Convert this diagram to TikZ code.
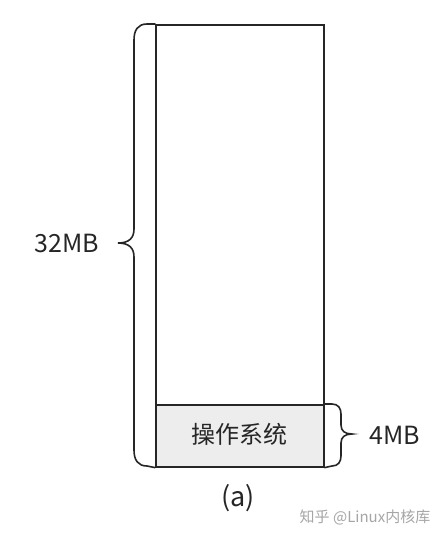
\documentclass[tikz,border=0pt]{standalone}
\usepackage{fontspec}
\setmainfont{Noto Sans CJK SC}
\begin{document}
\begin{tikzpicture}[x=1pt,y=-1pt,
  line/.style={draw=black!85, line width=1.6pt},
  lbl/.style={font=\fontsize{25}{28}\selectfont, text=black!85, inner sep=0pt}]
\useasboundingbox (0,0) rectangle (434,536);
\fill[white] (0,0) rectangle (434,536);
% OS box
\node[line, fill=black!7, minimum width=168pt, minimum height=62pt, inner sep=0pt, anchor=north west] (os) at (155,404) {};
\node[lbl, font=\fontsize{24}{26}\selectfont] (ostext) at (239,434) {操作系统};
% whole memory
\node[line, minimum width=168pt, minimum height=442pt, inner sep=0pt, anchor=north west] (mem) at (155,24) {};
% left brace
\coordinate (lt) at (118,243);
\draw[line, line cap=round] (mem.north west) -- (147,24) .. controls (138,24) and (134,30) .. (134,40)
  -- (134,229) .. controls (134,238) and (129,243) .. (lt)
  .. controls (129,243) and (134,248) .. (134,257)
  -- (134,450) .. controls (134,460) and (138,466) .. (147,466) -- (mem.south west);
\node[lbl, anchor=east] (m32) at (99,243) {32MB};
% right brace
\coordinate (rt) at (352,434);
\draw[line, line cap=round] (os.north east) -- (332,404) .. controls (338,404) and (341,408) .. (341,414)
  -- (341,425) .. controls (341,431) and (345,434) .. (rt)
  .. controls (345,434) and (341,437) .. (341,443)
  -- (341,456) .. controls (341,462) and (338,466) .. (332,466) -- (os.south east);
\node[lbl, anchor=west] (m4) at (369,435) {4MB};
% caption
\node[lbl, font=\fontsize{27}{30}\selectfont] (cap) at (238,498) {(a)};
% watermark
\node[font=\fontsize{15}{17}\selectfont, text=black!35, inner sep=0pt] (wm) at (365,517) {知乎 @Linux内核库};
\end{tikzpicture}
\end{document}
